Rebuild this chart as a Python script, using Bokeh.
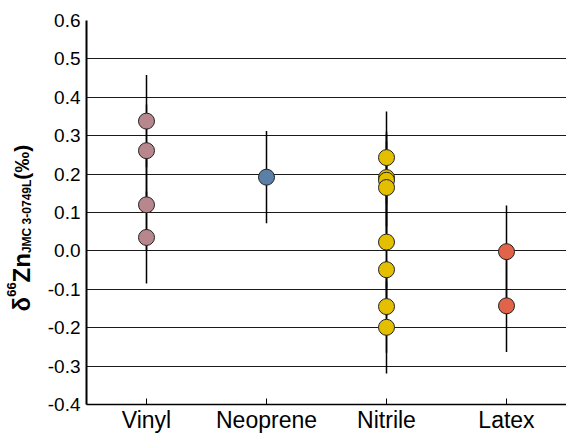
import math
from bokeh.plotting import figure
from bokeh.layouts import row
from bokeh.models import FactorRange, Range1d, Label, NumeralTickFormatter, FixedTicker, ColumnDataSource
from bokeh.embed import file_html
from bokeh.resources import INLINE

categories = ["Vinyl", "Neoprene", "Nitrile", "Latex"]
vinyl = [0.338, 0.261, 0.120, 0.035]
neoprene = [0.192]
nitrile = [0.243, 0.191, 0.184, 0.165, 0.023, -0.049, -0.145, -0.199]
latex = [-0.002, -0.143]
uncertainty = 0.12
y_ticks = [-0.4, -0.3, -0.2, -0.1, 0.0, 0.1, 0.2, 0.3, 0.4, 0.5, 0.6]
colors = ["#B8878D", "#5B80A8", "#E3BF00", "#E0634A"]

series = [vinyl, neoprene, nitrile, latex]

LABEL_W = 44
H = 435

p = figure(width=566 - LABEL_W, height=H,
           x_range=FactorRange(*categories, range_padding=0),
           y_range=Range1d(-0.4, 0.6),
           output_backend="svg", toolbar_location=None,
           min_border_left=86 - LABEL_W, min_border_right=0, min_border_top=20, min_border_bottom=28)
p.outline_line_color = None
p.background_fill_color = "white"
p.border_fill_color = "white"

p.xgrid.grid_line_color = None
p.ygrid.grid_line_color = "#1a1a1a"
p.ygrid.grid_line_width = 1

p.yaxis.ticker = FixedTicker(ticks=y_ticks)
p.yaxis.formatter = NumeralTickFormatter(format="0.0")
p.yaxis.major_tick_in = 0
p.yaxis.major_tick_out = 0
p.yaxis.minor_tick_line_color = None
p.yaxis.axis_line_width = 2
p.yaxis.axis_line_color = "black"
p.yaxis.major_label_text_font = "Liberation Sans"
p.yaxis.major_label_text_font_size = "19px"
p.yaxis.major_label_text_color = "black"
p.yaxis.major_label_standoff = 6

p.xaxis.major_tick_in = 6
p.xaxis.major_tick_out = 0
p.xaxis.major_tick_line_color = "black"
p.xaxis.axis_line_width = 1.5
p.xaxis.axis_line_color = "black"
p.xaxis.major_label_text_font = "Liberation Sans"
p.xaxis.major_label_text_font_size = "23px"
p.xaxis.major_label_text_color = "black"
p.xaxis.major_label_standoff = 2

for cat, vals, col in zip(categories, series, colors):
    src = ColumnDataSource(dict(
        x=[cat] * len(vals),
        y=vals,
        lo=[v - uncertainty for v in vals],
        hi=[v + uncertainty for v in vals],
    ))
    p.segment(x0="x", y0="lo", x1="x", y1="hi", source=src, line_color="black", line_width=1.5)
    p.scatter(x="x", y="y", source=src, size=16, fill_color=col, line_color="#222222", line_width=1)

# narrow companion figure carrying the rotated y-axis title
lab = figure(width=LABEL_W, height=H, output_backend="svg", toolbar_location=None,
             x_axis_location=None, y_axis_location=None,
             x_range=Range1d(0, 1), y_range=Range1d(0, 1),
             min_border_left=0, min_border_right=0, min_border_top=0, min_border_bottom=0)
lab.outline_line_color = None
lab.xgrid.visible = False
lab.ygrid.visible = False
lab.background_fill_color = "white"
lab.border_fill_color = "white"

W = {"δ": 0.611, "6": 0.556, "Z": 0.611, "n": 0.611, "J": 0.556, "M": 0.833, "C": 0.722,
     " ": 0.278, "3": 0.556, "-": 0.333, "0": 0.556, "7": 0.556, "4": 0.556, "9": 0.556,
     "L": 0.611, "(": 0.333, "‰": 1.0, ")": 0.333}

def width(s, size):
    return sum(W.get(c, 0.6) for c in s) * size

pieces = [
    ("δ", 24, 21),
    ("66", 13, 11),
    ("Zn", 24, 21),
    ("JMC 3-0749L", 12, 26),
    (" (‰)", 21, 21),
]
y = H - 306 - 36
for text, size, x in pieces:
    lab.add_layout(Label(x=x, y=y, x_units="screen", y_units="screen", text=text,
                         angle=math.pi / 2, text_align="left", text_baseline="alphabetic",
                         text_font="Liberation Sans", text_font_style="bold",
                         text_font_size=f"{size}px", text_color="black"))
    y += width(text, size)

layout = row(lab, p, spacing=0)
open("out.html", "w").write(file_html(layout, INLINE))
